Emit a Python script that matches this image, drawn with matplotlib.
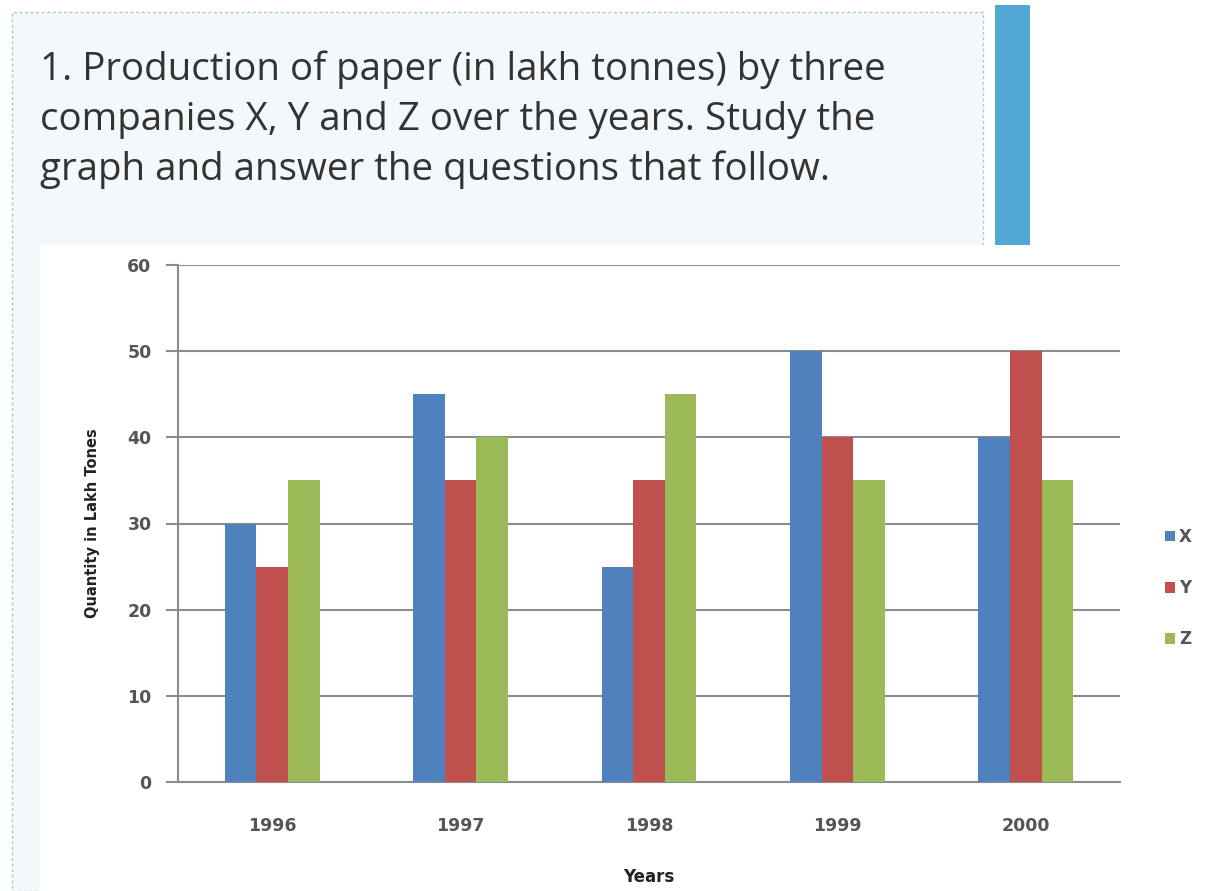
import matplotlib.pyplot as plt
import matplotlib.patches as patches
import numpy as np

# paper production data (lakh tonnes)
years = ['1996', '1997', '1998', '1999', '2000']
company_x = [30, 45, 25, 50, 40]
company_y = [25, 35, 35, 40, 50]
company_z = [35, 40, 45, 35, 35]
series_names = ['X', 'Y', 'Z']
colors = ['#4f81bd', '#c0504d', '#9bbb59']
title_lines = ['1. Production of paper (in lakh tonnes) by three',
               'companies X, Y and Z over the years. Study the',
               'graph and answer the questions that follow.']

W, H = 1207, 891


def fx(px):
    return px / W


def fy(py):
    return 1 - py / H


fig = plt.figure(figsize=(W / 100, H / 100), dpi=100)

# light blue question panel with dotted border
panel = patches.Rectangle((fx(12), fy(891)), fx(983 - 12), fy(12) - fy(891),
                          transform=fig.transFigure, facecolor='#f2f8fb',
                          edgecolor='#a9c3cf', linestyle=(0, (2, 2)), linewidth=1,
                          zorder=-3)
fig.add_artist(panel)
# blue side bar
bar = patches.Rectangle((fx(995), fy(245)), fx(1030 - 995), fy(5) - fy(245),
                        transform=fig.transFigure, facecolor='#4fa9d4', edgecolor='none',
                        zorder=-2)
fig.add_artist(bar)
# white chart area
chart_bg = patches.Rectangle((fx(40), 0), fx(W - 40), fy(245),
                             transform=fig.transFigure, facecolor='white', edgecolor='none',
                             zorder=-1)
fig.add_artist(chart_bg)

for i, line in enumerate(title_lines):
    fig.text(fx(40), fy(80 + 50 * i), line, fontsize=27.7, family='Open Sans',
             color='#333333', va='baseline', ha='left')

ax = fig.add_axes([fx(178), fy(782), fx(1120 - 178), fy(265) - fy(782)])
ax.set_facecolor('none')

x = np.arange(len(years))
width = 0.168
all_series = [company_x, company_y, company_z]
for i in range(3):
    ax.bar(x + (i - 1) * width, all_series[i], width, color=colors[i],
           label=series_names[i], zorder=3)

ax.set_xlim(-0.5, len(years) - 0.5)
ax.set_ylim(0, 60)
ax.set_yticks(range(0, 61, 10))
ax.set_xticks(x)
ax.set_xticklabels(years)
ax.yaxis.grid(True, color='#8c8c8c', linewidth=1.5, zorder=0)
for side in ['top', 'right']:
    ax.spines[side].set_visible(False)
ax.spines['left'].set_color('#8c8c8c')
ax.spines['bottom'].set_color('#8c8c8c')
ax.spines['left'].set_linewidth(1.5)
ax.spines['bottom'].set_linewidth(1.5)
ax.tick_params(axis='y', length=9, width=1.5, color='#8c8c8c', pad=10,
               labelsize=12.5, labelcolor='#555555')
ax.tick_params(axis='x', length=0, pad=25, labelsize=12.5, labelcolor='#555555')
for lab in ax.get_xticklabels() + ax.get_yticklabels():
    lab.set_fontweight('bold')

ax.set_ylabel('Quantity in Lakh Tones', fontsize=10.5, fontweight='bold',
              color='#222222', labelpad=20)
ax.set_xlabel('Years', fontsize=12, fontweight='bold', color='#222222', labelpad=24)

ax.legend(loc='center left', bbox_to_anchor=((1165 - 178) / 942, 0.375),
          frameon=False, borderpad=0, borderaxespad=0,
          handlelength=0.6, handleheight=0.6, handletextpad=0.25,
          labelspacing=2.0, prop={'size': 12, 'weight': 'bold'},
          labelcolor='#555555')

fig.savefig('out.png', dpi=100)
